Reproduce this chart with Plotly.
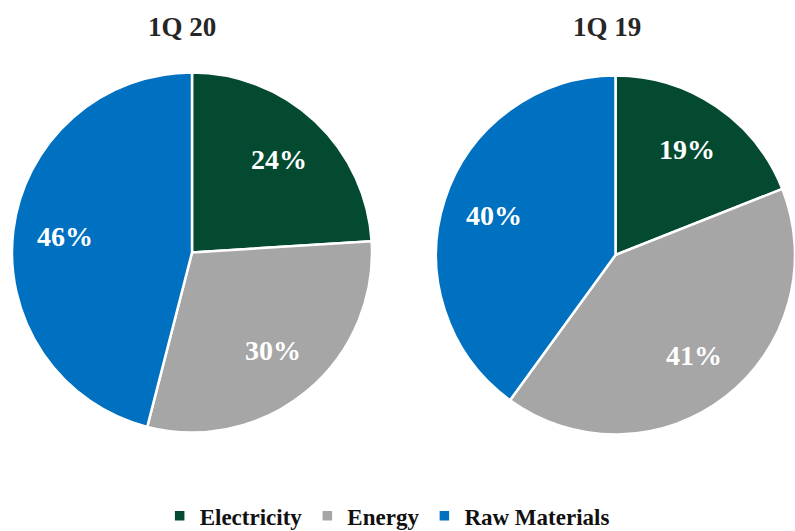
import math
import plotly.graph_objects as go

categories = ["Electricity", "Energy", "Raw Materials"]
values_1q20 = [24, 30, 46]
values_1q19 = [19, 41, 40]
titles = ["1Q 20", "1Q 19"]
colors = ["#034A31", "#A6A6A6", "#0070C0"]

W, H = 795, 531
FONT = "Liberation Serif, Times New Roman, serif"

domains = [
    dict(x=[12 / W, 372 / W], y=[(H - 433) / H, (H - 72) / H]),
    dict(x=[436 / W, 1.0], y=[(H - 437) / H, (H - 73) / H]),
]
series = [values_1q20, values_1q19]

fig = go.Figure()
for i, (vals, dom) in enumerate(zip(series, domains)):
    fig.add_trace(go.Pie(
        values=vals, labels=categories, name=titles[i], showlegend=(i == 0),
        sort=False, direction="clockwise", rotation=0,
        marker=dict(colors=colors, line=dict(color="white", width=2.5)),
        textinfo="none", hoverinfo="label+value", domain=dom,
    ))
    # label positions derived from slice mid-angles
    x0, x1 = dom["x"][0] * W, dom["x"][1] * W
    y0, y1 = (1 - dom["y"][1]) * H, (1 - dom["y"][0]) * H
    cx, cy = (x0 + x1) / 2, (y0 + y1) / 2
    r = min(x1 - x0, y1 - y0) / 2
    total = sum(vals)
    cum = 0
    for v in vals:
        mid = (cum + v / 2) / total * 2 * math.pi
        cum += v
        px = cx + 0.71 * r * math.sin(mid)
        py = cy - 0.71 * r * math.cos(mid)
        fig.add_annotation(text=f"{v}%", x=px / W, y=1 - py / H, xref="paper", yref="paper",
                           showarrow=False, xanchor="center", yanchor="middle",
                           font=dict(family=FONT, size=28, color="white", weight="bold"))

for t, x in zip(titles, [182 / W, 607 / W]):
    fig.add_annotation(text=t, x=x, y=(H - 27) / H, xref="paper", yref="paper",
                       showarrow=False, xanchor="center", yanchor="middle",
                       font=dict(family=FONT, size=27, color="#262626", weight="bold"))

fig.update_layout(
    width=W, height=H,
    margin=dict(l=0, r=0, t=0, b=0, autoexpand=False),
    paper_bgcolor="white", plot_bgcolor="white",
    showlegend=True,
    legend=dict(orientation="h", x=0.487, xanchor="center", y=-0.012, yanchor="bottom",
                font=dict(family=FONT, size=23, color="#111111", weight="bold"),
                itemclick=False, itemwidth=30),
)

fig.write_html("out.html")
